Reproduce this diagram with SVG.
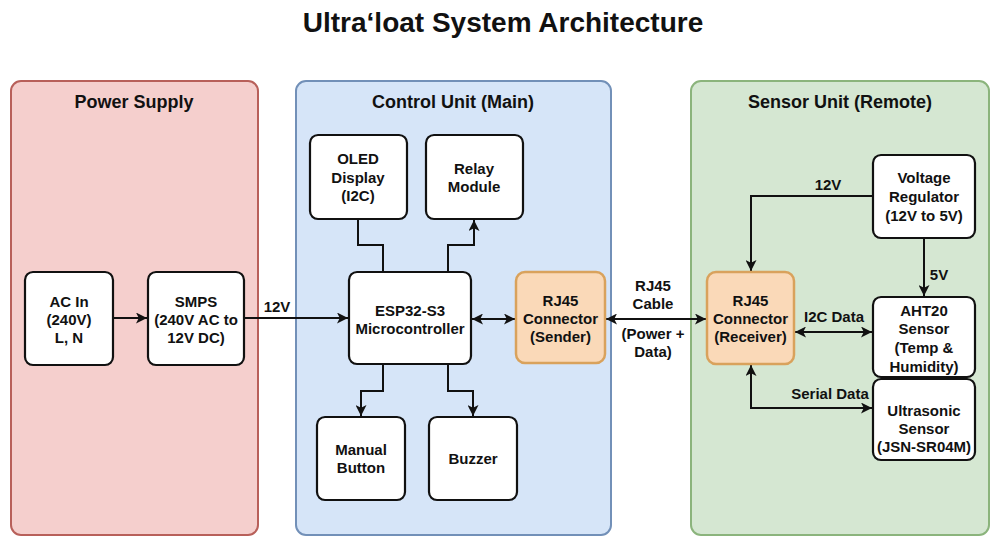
<svg xmlns="http://www.w3.org/2000/svg" width="1000" height="545" viewBox="0 0 1000 545">
<defs>
<marker id="ah" viewBox="0 0 10 10" refX="10" refY="5" markerWidth="11" markerHeight="11" markerUnits="userSpaceOnUse" orient="auto-start-reverse">
<path d="M0,0 L10,5 L0,10 L2.5,5 Z" fill="#111"/>
</marker>
</defs>
<style>
text{font-family:"Liberation Sans",Arial,sans-serif;font-weight:bold;fill:#111;text-anchor:middle}
.title{font-size:28px}
.ct{font-size:18px}
.nt{font-size:15px}
.lb{font-size:15px}
.node{fill:#fff;stroke:#111;stroke-width:2.2}
.rj{fill:#fad9b8;stroke:#d9a25c;stroke-width:2.5}
.wire{fill:none;stroke:#111;stroke-width:2}
</style>
<rect width="1000" height="545" fill="#fff"/>
<text class="title" x="503" y="32">Ultra‘loat System Architecture</text>

<g id="power-supply">
<rect x="11" y="81" width="247" height="454" rx="10" fill="#f5cfcd" stroke="#b8605a" stroke-width="2"/>
<text class="ct" x="134" y="108">Power Supply</text>
</g>
<g id="control-unit">
<rect x="296" y="81" width="315" height="454" rx="10" fill="#d6e5f8" stroke="#7290b8" stroke-width="2"/>
<text class="ct" x="453" y="108">Control Unit (Main)</text>
</g>
<g id="sensor-unit">
<rect x="691" y="81" width="298" height="454" rx="10" fill="#d5e7d2" stroke="#8bb47c" stroke-width="2"/>
<text class="ct" x="840" y="108">Sensor Unit (Remote)</text>
</g>

<g id="connectors">
<line class="wire" x1="113" y1="318" x2="147" y2="318" marker-end="url(#ah)"/>
<line class="wire" x1="244" y1="318" x2="348" y2="318" marker-end="url(#ah)"/>
<text class="lb" x="277" y="312">12V</text>
<polyline class="wire" points="383,272 383,245 358,245 358,219"/>
<polyline class="wire" points="448,272 448,245 474,245 474,220" marker-end="url(#ah)"/>
<line class="wire" x1="472" y1="319" x2="515" y2="319" marker-start="url(#ah)" marker-end="url(#ah)"/>
<polyline class="wire" points="383,364 383,391 361,391 361,416" marker-end="url(#ah)"/>
<polyline class="wire" points="448,364 448,391 473,391 473,416" marker-end="url(#ah)"/>
<line class="wire" x1="606" y1="319" x2="706" y2="319" marker-start="url(#ah)" marker-end="url(#ah)"/>
<text class="lb" x="653" y="291">RJ45</text>
<text class="lb" x="653" y="309">Cable</text>
<text class="lb" x="653" y="339">(Power +</text>
<text class="lb" x="653" y="357">Data)</text>
<polyline class="wire" points="873,196 751,196 751,271" marker-end="url(#ah)"/>
<text class="lb" x="828" y="190">12V</text>
<line class="wire" x1="924" y1="238" x2="924" y2="296" marker-end="url(#ah)"/>
<text class="lb" x="939" y="280">5V</text>
<line class="wire" x1="795" y1="332" x2="872" y2="332" marker-start="url(#ah)" marker-end="url(#ah)"/>
<text class="lb" x="834" y="322">I2C Data</text>
<polyline class="wire" points="751,365 751,408 872,408" marker-start="url(#ah)" marker-end="url(#ah)"/>
<text class="lb" x="830" y="399">Serial Data</text>
</g>

<g id="ac-in">
<rect class="node" x="25" y="272" width="88" height="93" rx="8"/>
<text class="nt" x="69" y="307">AC In</text>
<text class="nt" x="69" y="325">(240V)</text>
<text class="nt" x="69" y="343">L, N</text>
</g>
<g id="smps">
<rect class="node" x="148" y="272" width="96" height="93" rx="8"/>
<text class="nt" x="196" y="307">SMPS</text>
<text class="nt" x="196" y="325">(240V AC to</text>
<text class="nt" x="196" y="343">12V DC)</text>
</g>
<g id="oled">
<rect class="node" x="310" y="135" width="97" height="84" rx="8"/>
<text class="nt" x="358" y="164">OLED</text>
<text class="nt" x="358" y="183">Display</text>
<text class="nt" x="358" y="201">(I2C)</text>
</g>
<g id="relay">
<rect class="node" x="426" y="135" width="97" height="84" rx="8"/>
<text class="nt" x="474" y="174">Relay</text>
<text class="nt" x="474" y="192">Module</text>
</g>
<g id="esp32">
<rect class="node" x="349" y="272" width="122" height="92" rx="8"/>
<text class="nt" x="410" y="315.5">ESP32-S3</text>
<text class="nt" x="410" y="333.5">Microcontroller</text>
</g>
<g id="rj45-sender">
<rect class="rj" x="516" y="272" width="89" height="91" rx="9"/>
<text class="nt" x="560.5" y="306">RJ45</text>
<text class="nt" x="560.5" y="324">Connector</text>
<text class="nt" x="560.5" y="342">(Sender)</text>
</g>
<g id="manual-button">
<rect class="node" x="317" y="417" width="88" height="83" rx="8"/>
<text class="nt" x="361" y="455">Manual</text>
<text class="nt" x="361" y="473">Button</text>
</g>
<g id="buzzer">
<rect class="node" x="429" y="417" width="88" height="83" rx="8"/>
<text class="nt" x="473" y="464">Buzzer</text>
</g>
<g id="rj45-receiver">
<rect class="rj" x="707" y="272" width="87" height="92" rx="9"/>
<text class="nt" x="750.5" y="306">RJ45</text>
<text class="nt" x="750.5" y="324">Connector</text>
<text class="nt" x="750.5" y="342">(Receiver)</text>
</g>
<g id="voltage-regulator">
<rect class="node" x="873" y="155" width="102" height="83" rx="8"/>
<text class="nt" x="924" y="183">Voltage</text>
<text class="nt" x="924" y="202">Regulator</text>
<text class="nt" x="924" y="221">(12V to 5V)</text>
</g>
<g id="aht20">
<rect class="node" x="873" y="297" width="102" height="80" rx="8"/>
<text class="nt" x="924" y="316">AHT20</text>
<text class="nt" x="924" y="334">Sensor</text>
<text class="nt" x="924" y="353">(Temp &amp;</text>
<text class="nt" x="924" y="372">Humidity)</text>
</g>
<g id="ultrasonic">
<rect class="node" x="873" y="379" width="102" height="81" rx="8"/>
<text class="nt" x="924" y="416">Ultrasonic</text>
<text class="nt" x="924" y="434">Sensor</text>
<text class="nt" x="924" y="452">(JSN-SR04M)</text>
</g>
</svg>
